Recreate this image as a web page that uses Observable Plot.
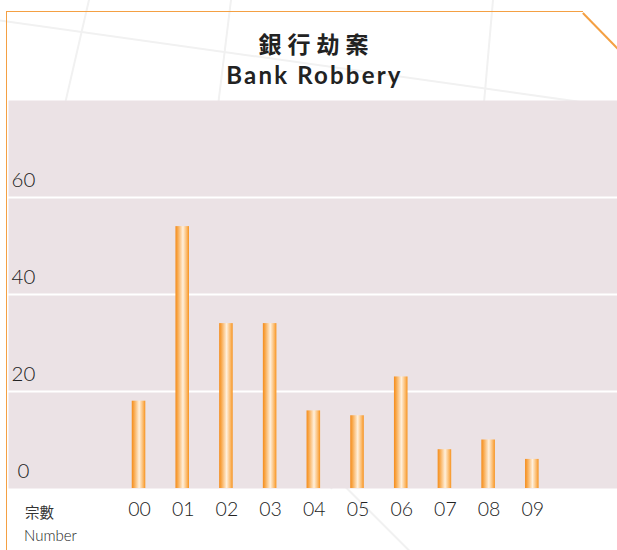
<!DOCTYPE html>
<html>
<head>
<meta charset="utf-8">
<script src="https://cdn.jsdelivr.net/npm/d3@7"></script>
<script src="https://cdn.jsdelivr.net/npm/@observablehq/plot@0.6"></script>
<style>
  html, body { margin: 0; padding: 0; background: #fff; }
  #wrap { position: relative; width: 617px; height: 550px; overflow: hidden; background: #fff; }
  .deco { position: absolute; height: 1.5px; background: #f1f1f1; transform-origin: 0 0; }
  #frameTL { position: absolute; left: 6px; top: 11px; width: 577px; height: 560px;
    border-top: 1.6px solid #f4a043; border-left: 1.6px solid #f4a043; box-sizing: border-box; }
  #frameDiag { position: absolute; left: 583px; top: 11.5px; width: 50px; height: 1.6px;
    background: #f4a043; transform-origin: 0 50%; transform: rotate(45.8deg); }
  #chart { position: absolute; left: 0; top: 0; }
  #title { position: absolute; left: 5px; width: 617px; text-align: center; top: 28px; color: #222;
    font-family: "Noto Sans CJK TC", "Noto Sans CJK SC", sans-serif; font-weight: 700;
    font-size: 23px; letter-spacing: 6px; text-indent: 6px; line-height: 30px; }
  #subtitle { position: absolute; left: 5px; width: 617px; text-align: center; top: 59.5px; color: #222;
    font-family: Lato, "Open Sans", sans-serif; font-weight: 700; font-size: 24px;
    letter-spacing: 2.2px; text-indent: 2px; line-height: 30px; }
  #cap1 { position: absolute; left: 25px; top: 502px; font-family: "Noto Sans CJK TC", sans-serif;
    font-size: 14.5px; color: #333; line-height: 20px; }
  #cap2 { position: absolute; left: 24px; top: 525px; font-family: Lato, "Open Sans", sans-serif;
    font-weight: 300; font-size: 15px; color: #222; line-height: 20px; }
</style>
</head>
<body>
<div id="wrap">
  <div class="deco" style="left:-10px; top:18px; width:700px; transform: rotate(8deg);"></div>
  <div class="deco" style="left:90px; top:0px; width:200px; transform: rotate(103deg);"></div>
  <div class="deco" style="left:232px; top:0px; width:200px; transform: rotate(97deg);"></div>
  <div class="deco" style="left:494px; top:0px; width:200px; transform: rotate(95deg);"></div>
  <div class="deco" style="left:330px; top:488px; width:120px; transform: rotate(-45deg);"></div>
  <div class="deco" style="left:330px; top:470px; width:120px; transform: rotate(45deg);"></div>
  <div id="frameTL"></div>
  <div id="frameDiag"></div>
  <div id="chart"></div>
  <div id="title">銀行劫案</div>
  <div id="subtitle">Bank Robbery</div>
  <div id="cap1">宗數</div>
  <div id="cap2">Number</div>
</div>
<script>
const years = ["00", "01", "02", "03", "04", "05", "06", "07", "08", "09"];
const cases = [18, 54, 34, 34, 16, 15, 23, 8, 10, 6];
const yTickValues = [0, 20, 40, 60];
const gridValues = [20, 40, 60];

const rows = years.map((y, i) => ({year: y, value: cases[i]}));

const gradientDefs = () => {
  const defs = d3.create("svg:defs");
  const g = defs.append("linearGradient").attr("id", "barGrad")
    .attr("x1", "0%").attr("x2", "100%").attr("y1", "0%").attr("y2", "0%");
  [["0%", "#f48c1c"], ["15%", "#f8a545"], ["55%", "#fff0dc"], ["85%", "#fbb663"], ["100%", "#f7931f"]]
    .forEach(([o, c]) => g.append("stop").attr("offset", o).attr("stop-color", c));
  return defs.node();
};

const chart = Plot.plot({
  width: 617,
  height: 550,
  marginTop: 100,
  marginBottom: 62,
  marginLeft: 8,
  marginRight: 0,
  style: {background: "transparent", fontFamily: "Lato, 'Open Sans', sans-serif"},
  x: {type: "band", domain: years, range: [116.67, 553.67], paddingInner: 0.69, paddingOuter: 0.345, round: false, axis: null},
  y: {domain: [0, 80], axis: null},
  marks: [
    Plot.frame({fill: "#ebe2e5", stroke: "none"}),
    Plot.ruleY(gridValues, {stroke: "white", strokeWidth: 2}),
    gradientDefs,
    Plot.barY(rows, {x: "year", y: "value", fill: "url(#barGrad)"}),
    Plot.text(years, {x: d => d, frameAnchor: "bottom", dy: 21, dx: 0.5, fontSize: 19.5, fontWeight: 300,
      fill: "#222", lineAnchor: "middle", textAnchor: "middle", letterSpacing: 1}),
    Plot.text(yTickValues, {y: d => d, frameAnchor: "left", dx: 15, dy: -11, fontSize: 20.5, fontWeight: 300,
      fill: "#222", textAnchor: "middle", lineAnchor: "bottom"})
  ]
});
document.getElementById("chart").appendChild(chart);
</script>
</body>
</html>
